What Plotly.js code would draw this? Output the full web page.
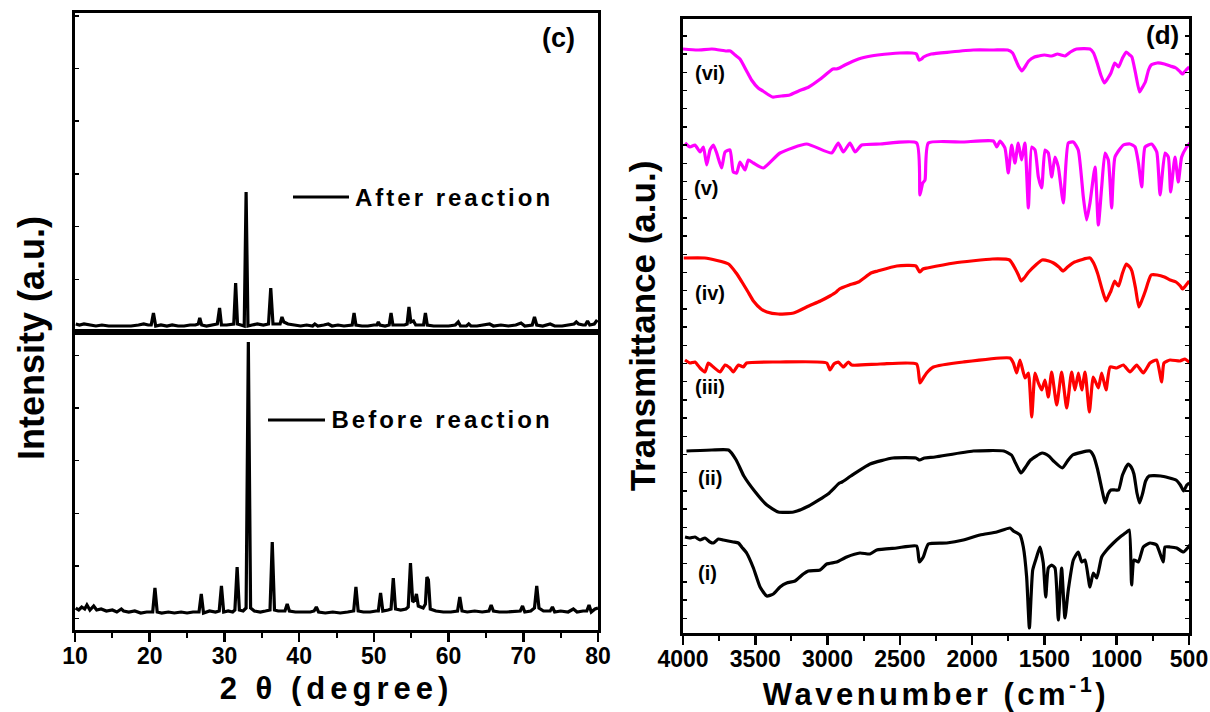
<!DOCTYPE html>
<html>
<head>
<meta charset="utf-8">
<script src="https://cdn.plot.ly/plotly-3.0.1.min.js"></script>
<style>
  html, body { margin: 0; padding: 0; background: #fff; }
  #chart { width: 1210px; height: 712px; }
  .xtitle { letter-spacing: 5px; }
  .x3title { letter-spacing: 3.5px; }
  g.annotation[data-index="2"] text, g.annotation[data-index="3"] text { letter-spacing: 3px; }
</style>
</head>
<body>
<div id="chart"></div>
<script>
// ---------------- DATA ----------------
// (c) XRD, 2-theta (degree) vs intensity (a.u.)
const xrdBefore = [[10.1,22],[10.5,20],[10.9,23],[11.3,21],[11.6,25],[12.0,20],[12.5,24],[12.9,20],[13.5,21],[14.2,19],[15.0,20],[15.6,18],[16.2,21],[16.5,19],[17.2,18],[18.0,19],[18.8,17],[19.6,18],[20.4,18],[20.7,42],[21.0,18],[21.6,17],[22.5,18],[23.3,17],[24.2,18],[25.0,17],[25.8,18],[26.6,18],[26.9,36],[27.2,17],[28.0,19],[28.8,18],[29.3,19],[29.6,44],[29.9,18],[30.5,19],[31.1,18],[31.4,20],[31.7,63],[32.0,20],[32.5,19],[32.9,22],[33.2,288],[33.5,22],[34.0,19],[34.8,18],[35.5,19],[36.1,20],[36.4,88],[36.7,20],[37.2,19],[38.1,19],[38.4,26],[38.7,19],[39.5,18],[40.5,18],[41.5,18],[42.0,19],[42.3,23],[42.6,18],[43.5,17],[44.5,18],[45.5,17],[46.5,18],[47.3,19],[47.6,43],[47.9,19],[48.6,18],[49.5,18],[50.3,19],[50.6,19],[50.9,37],[51.2,19],[51.9,20],[52.3,21],[52.6,52],[52.9,21],[53.6,20],[54.3,21],[54.6,23],[54.9,67],[55.2,28],[55.5,30],[55.7,36],[55.95,24],[56.6,22],[56.9,26],[57.1,53],[57.3,50],[57.55,21],[58.3,19],[59.3,18],[60.3,18],[61.2,19],[61.5,33],[61.8,19],[62.5,18],[63.5,19],[64.5,18],[65.4,19],[65.7,25],[66.0,19],[66.8,18],[67.8,18],[68.8,19],[69.6,19],[69.9,24],[70.2,18],[71.0,19],[71.5,22],[71.8,44],[72.1,22],[72.7,19],[73.6,19],[73.9,23],[74.2,18],[75.0,19],[76.0,18],[76.7,21],[77.2,18],[78.0,19],[78.5,19],[78.8,25],[79.1,18],[79.6,21],[80.0,22]];
const xrdAfter = [[10.1,8],[10.6,7],[11.2,8],[12.0,7],[12.8,6],[13.6,7],[14.5,6],[15.5,6],[16.5,6],[17.5,6],[18.5,7],[19.2,8],[19.8,7],[20.2,7],[20.5,19],[20.8,6],[21.5,7],[22.3,6],[23.0,7],[23.8,6],[24.6,6],[25.4,7],[26.1,7],[26.5,8],[26.7,14],[26.95,7],[27.6,6],[28.4,7],[29.05,8],[29.35,24],[29.6,7],[30.3,7],[31.0,8],[31.25,8],[31.5,49],[31.75,8],[32.2,7],[32.65,6],[32.9,140],[33.15,6],[33.7,7],[34.4,8],[35.2,7],[35.9,8],[36.2,44],[36.5,8],[37.0,8],[37.45,8],[37.7,15],[37.95,10],[38.5,8],[39.3,7],[40.2,6],[41.0,7],[41.8,6],[42.1,8],[42.5,6],[43.3,7],[43.9,8],[44.4,6],[45.2,7],[46.0,6],[46.8,7],[47.1,7],[47.35,19],[47.6,7],[48.4,6],[49.2,6],[50.0,7],[50.4,7],[50.6,10],[50.8,7],[51.5,6],[52.05,7],[52.3,19],[52.55,7],[53.3,7],[54.1,7],[54.45,8],[54.7,25],[54.95,10],[55.3,11],[55.6,7],[56.3,7],[56.65,7],[56.9,19],[57.15,7],[58.0,6],[59.0,6],[60.0,6],[60.9,7],[61.3,10],[61.6,6],[62.4,6],[62.7,8],[63.0,6],[63.8,6],[64.7,7],[65.5,8],[66.0,6],[67.0,7],[68.0,6],[69.0,7],[69.7,9],[70.2,6],[71.2,7],[71.5,15],[71.8,7],[72.6,6],[73.6,8],[74.2,6],[75.2,6],[76.2,7],[76.8,8],[77.1,10],[77.4,8],[78.0,7],[78.3,7],[78.6,11],[78.9,7],[79.5,8],[79.9,12]];
const xrdNames = ['Before reaction', 'After reaction'];

// (d) FTIR, wavenumber (cm-1) vs transmittance (a.u., stacked)
const ftir_i = [[3986,96],[3952,95],[3917,96],[3882,93],[3848,95],[3813,91],[3790,90],[3756,94],[3721,93],[3687,92],[3652,91],[3617,90],[3594,86],[3560,80],[3513,65],[3467,46],[3421,37],[3375,39],[3329,46],[3283,50],[3225,52],[3168,59],[3133,62],[3052,63],[3006,69],[2937,71],[2868,76],[2776,80],[2707,79],[2660,83],[2522,85],[2384,87],[2365,71],[2338,76],[2303,89],[2176,90],[2061,93],[1946,98],[1830,101],[1738,105],[1715,102],[1669,98],[1646,86],[1623,56],[1604,5],[1581,63],[1554,76],[1531,86],[1508,70],[1491,36],[1473,65],[1450,68],[1427,65],[1404,13],[1381,65],[1358,15],[1335,43],[1300,73],[1266,81],[1242,71],[1219,73],[1185,46],[1162,60],[1138,55],[1104,76],[1069,83],[1023,90],[977,96],[931,101],[913,103],[897,48],[880,73],[850,71],[816,86],[770,90],[724,88],[678,71],[666,86],[631,86],[585,85],[539,81],[493,88]];
const ftir_ii = [[3976,182],[3800,183],[3685,183],[3632,173],[3579,157],[3500,141],[3420,128],[3341,121],[3235,121],[3130,127],[2997,139],[2918,150],[2900,151],[2839,157],[2706,169],[2548,175],[2389,175],[2363,173],[2330,175],[2257,176],[1992,182],[1781,182],[1728,178],[1700,170],[1662,160],[1630,166],[1596,173],[1516,180],[1470,177],[1437,172],[1376,165],[1340,172],[1305,178],[1185,182],[1160,177],[1133,164],[1100,142],[1080,130],[1060,139],[1040,143],[1010,143],[987,143],[960,158],[921,169],[900,166],[881,159],[860,140],[842,130],[820,140],[800,152],[776,157],[696,157],[590,153],[560,148],[537,142],[515,148],[498,150]];
const ftir_iii = [[3986,273],[3952,270],[3917,271],[3882,265],[3848,261],[3825,270],[3790,266],[3744,261],[3709,268],[3675,265],[3652,261],[3617,268],[3583,266],[3560,270],[3329,271],[3006,270],[2983,263],[2956,269],[2926,271],[2891,266],[2856,271],[2833,268],[2637,269],[2384,269],[2361,250],[2338,255],[2315,260],[2268,266],[2061,271],[1738,275],[1715,270],[1692,260],[1669,273],[1634,255],[1611,260],[1588,216],[1565,260],[1542,250],[1519,243],[1496,253],[1473,236],[1450,261],[1415,228],[1381,261],[1346,225],[1312,261],[1289,243],[1265,260],[1242,243],[1219,261],[1189,221],[1162,256],[1127,245],[1104,260],[1074,243],[1046,266],[1000,265],[954,268],[908,261],[862,268],[816,260],[770,270],[724,273],[689,251],[673,270],[631,273],[562,272],[528,274],[493,270]];
const ftir_iv = [[3995,375],[3850,375],[3685,369],[3632,360],[3592,351],[3550,341],[3513,332],[3460,324],[3420,321],[3341,319],[3235,320],[3130,327],[3050,332],[2984,337],[2940,341],[2918,344],[2850,348],[2786,351],[2700,360],[2653,362],[2521,367],[2389,367],[2363,361],[2340,364],[2310,365],[2124,370],[1860,374],[1741,373],[1701,364],[1680,358],[1662,352],[1640,355],[1609,361],[1560,368],[1516,373],[1470,372],[1437,370],[1400,366],[1371,362],[1340,366],[1291,371],[1185,375],[1160,370],[1133,360],[1100,343],[1074,332],[1060,336],[1040,342],[1014,352],[1000,349],[987,347],[960,360],[934,369],[910,366],[895,362],[870,345],[847,326],[825,333],[802,342],[780,352],[762,358],[720,358],[670,356],[630,353],[590,351],[560,347],[545,344],[520,348],[498,352]];
const ftir_v = [[3986,490],[3952,486],[3917,488],[3882,481],[3859,486],[3836,468],[3813,483],[3790,488],[3767,480],[3733,465],[3709,481],[3675,483],[3652,461],[3629,460],[3606,471],[3571,463],[3548,473],[3513,470],[3444,465],[3329,480],[3145,489],[2972,480],[2926,490],[2891,481],[2845,490],[2810,481],[2764,488],[2637,489],[2384,490],[2361,438],[2342,450],[2326,453],[2303,490],[2061,491],[1853,492],[1830,486],[1807,492],[1773,485],[1750,460],[1727,488],[1704,470],[1681,490],[1658,473],[1635,490],[1611,425],[1588,486],[1565,483],[1542,456],[1519,445],[1496,483],[1473,480],[1450,456],[1427,476],[1404,466],[1369,430],[1335,490],[1300,491],[1266,483],[1231,436],[1208,413],[1185,430],[1150,466],[1127,408],[1104,446],[1081,480],[1058,473],[1035,425],[1012,476],[954,488],[908,489],[873,486],[850,470],[827,446],[804,486],[758,489],[723,481],[700,438],[666,480],[643,476],[627,441],[597,476],[574,451],[551,476],[516,486],[493,490]];
const ftir_vi = [[4000,584],[3900,583],[3800,584],[3700,582],[3672,582],[3640,578],[3606,574],[3560,562],[3526,553],[3480,545],[3447,542],[3381,536],[3320,537],[3262,538],[3200,542],[3130,546],[3050,554],[2963,564],[2940,564],[2918,565],[2880,568],[2786,574],[2700,577],[2653,578],[2500,580],[2415,580],[2385,579],[2368,573],[2350,574],[2336,576],[2283,579],[2150,581],[1992,583],[1850,583],[1754,583],[1720,580],[1701,574],[1680,567],[1656,562],[1635,566],[1609,572],[1569,576],[1540,577],[1500,578],[1450,577],[1410,579],[1384,578],[1357,577],[1320,581],[1278,584],[1185,584],[1160,580],[1133,569],[1110,558],[1085,550],[1060,555],[1040,560],[1014,570],[1000,568],[987,566],[960,575],[934,581],[910,578],[895,576],[870,560],[842,541],[825,545],[802,551],[780,563],[762,568],[720,570],[670,569],[630,567],[590,565],[560,561],[545,559],[520,563],[498,566]];
const ftirSeries = [ftir_i, ftir_ii, ftir_iii, ftir_iv, ftir_v, ftir_vi];
const ftirLabels = ['(i)', '(ii)', '(iii)', '(iv)', '(v)', '(vi)'];
const ftirColors = ['#000000', '#000000', '#ff0000', '#ff0000', '#ff00ff', '#ff00ff'];
const xrdTicks = [10, 20, 30, 40, 50, 60, 70, 80];
const ftirTicks = [4000, 3500, 3000, 2500, 2000, 1500, 1000, 500];

// ---------------- LAYOUT HELPERS ----------------
const W = 1210, H = 712;
const px = v => v / W;
const py = v => 1 - v / H;
const FONT = 'Liberation Sans, Arial, Helvetica, sans-serif';
const tickFont = {family: FONT, size: 23, color: '#000', weight: 'bold'};
const bold = s => '<b>' + s + '</b>';

const traces = [];
traces.push({type: 'scatter', mode: 'lines', name: xrdNames[0],
  x: xrdBefore.map(p => p[0]), y: xrdBefore.map(p => p[1]),
  xaxis: 'x', yaxis: 'y', line: {color: '#000', width: 3.2}, showlegend: false, hoverinfo: 'skip'});
traces.push({type: 'scatter', mode: 'lines', name: xrdNames[1],
  x: xrdAfter.map(p => p[0]), y: xrdAfter.map(p => p[1]),
  xaxis: 'x2', yaxis: 'y2', line: {color: '#000', width: 3.2}, showlegend: false, hoverinfo: 'skip'});
ftirSeries.forEach((s, i) => {
  traces.push({type: 'scatter', mode: 'lines', name: ftirLabels[i],
    x: s.map(p => p[0]), y: s.map(p => p[1]),
    xaxis: 'x3', yaxis: 'y3', line: {color: ftirColors[i], width: 3.2, shape: 'spline', smoothing: 0.5},
    showlegend: false, hoverinfo: 'skip'});
});

const frame = {showline: true, linewidth: 3, linecolor: '#000', mirror: true, showgrid: false, zeroline: false};
const leftX = [px(75), px(598)];
const rightX = [px(683), px(1189)];

const layout = {
  width: W, height: H,
  margin: {l: 0, r: 0, t: 0, b: 0, pad: 0},
  paper_bgcolor: '#fff', plot_bgcolor: 'rgba(0,0,0,0)',
  showlegend: false,
  font: {family: FONT, color: '#000'},
  xaxis: Object.assign({}, frame, {
    domain: leftX, anchor: 'y', range: [10, 80],
    tickvals: xrdTicks, ticktext: xrdTicks.map(v => bold(v)),
    ticks: 'outside', ticklen: 9, tickwidth: 2.5, tickcolor: '#000', tickfont: tickFont, ticklabelstandoff: -6,
    minor: {dtick: 5, tick0: 10, ticks: 'outside', ticklen: 5, tickwidth: 2, tickcolor: '#000'},
    title: {text: bold('2 θ (degree)'), font: {family: FONT, size: 31, weight: 'bold', color: '#000'}, standoff: 10}
  }),
  xaxis2: Object.assign({}, frame, {
    domain: leftX, anchor: 'y2', range: [10, 80], matches: 'x',
    showticklabels: false, ticks: ''
  }),
  yaxis: Object.assign({}, frame, {
    domain: [py(630), py(332)], anchor: 'x', range: [0, 298],
    ticks: 'inside', ticklen: 4, tickwidth: 1.5, tickcolor: '#000', tick0: 11.5, dtick: 52.6,
    showticklabels: false
  }),
  yaxis2: Object.assign({}, frame, {
    domain: [py(332), py(13)], anchor: 'x2', range: [0, 319],
    ticks: 'inside', ticklen: 4, tickwidth: 1.5, tickcolor: '#000', tick0: 0, dtick: 52.7,
    showticklabels: false
  }),
  xaxis3: Object.assign({}, frame, {
    domain: rightX, anchor: 'y3', range: [4000, 500],
    tickvals: ftirTicks, ticktext: ftirTicks.map(v => bold(v)),
    ticks: 'outside', ticklen: 9, tickwidth: 2.5, tickcolor: '#000', tickfont: tickFont, ticklabelstandoff: -6,
    minor: {dtick: 250, tick0: 500, ticks: 'outside', ticklen: 5, tickwidth: 2, tickcolor: '#000'},
    title: {text: bold('Wavenumber (cm<sup>-1</sup>)'), font: {family: FONT, size: 31, weight: 'bold', color: '#000'}, standoff: 8}
  }),
  yaxis3: Object.assign({}, frame, {
    domain: [py(633), py(19)], anchor: 'x3', range: [0, 614],
    mirror: 'allticks',
    ticks: 'inside', ticklen: 4, tickwidth: 1.5, tickcolor: '#000', tick0: 14.7, dtick: 18.2,
    showticklabels: false,
    title: {text: bold('Transmittance (a.u.)'), font: {family: FONT, size: 35, weight: 'bold', color: '#000'}, standoff: 14}
  }),
  annotations: [
    {text: bold('(c)'), xref: 'paper', yref: 'paper', x: px(558), y: py(38), xanchor: 'center', yanchor: 'middle', showarrow: false,
     font: {family: FONT, size: 27, weight: 'bold', color: '#000'}},
    {text: bold('(d)'), xref: 'paper', yref: 'paper', x: px(1162), y: py(35), xanchor: 'center', yanchor: 'middle', showarrow: false,
     font: {family: FONT, size: 26, weight: 'bold', color: '#000'}},
    {text: bold(xrdNames[1]), xref: 'paper', yref: 'paper', x: px(454), y: py(197), xanchor: 'center', yanchor: 'middle', showarrow: false,
     font: {family: FONT, size: 24, weight: 'bold', color: '#000'}},
    {text: bold(xrdNames[0]), xref: 'paper', yref: 'paper', x: px(442), y: py(419), xanchor: 'center', yanchor: 'middle', showarrow: false,
     font: {family: FONT, size: 24, weight: 'bold', color: '#000'}},
    {text: bold('Intensity (a.u.)'), xref: 'paper', yref: 'paper', x: px(31), y: py(338), xanchor: 'center', yanchor: 'middle', showarrow: false,
     textangle: -90, font: {family: FONT, size: 36, weight: 'bold', color: '#000'}}
  ],
  shapes: [
    {type: 'line', xref: 'paper', yref: 'paper', x0: px(293), x1: px(349), y0: py(197), y1: py(197), line: {color: '#000', width: 3}},
    {type: 'line', xref: 'paper', yref: 'paper', x0: px(268), x1: px(325), y0: py(420), y1: py(420), line: {color: '#000', width: 3}}
  ]
};

const labelPos = [[707, 573], [710, 478], [710, 387], [710, 293], [706, 188], [710, 73]];
ftirLabels.forEach((t, i) => {
  layout.annotations.push({text: bold(t), xref: 'paper', yref: 'paper', x: px(labelPos[i][0]), y: py(labelPos[i][1]),
    xanchor: 'center', yanchor: 'middle', showarrow: false,
    font: {family: FONT, size: 20, weight: 'bold', color: '#000'}});
});

Plotly.newPlot('chart', traces, layout, {staticPlot: true, displayModeBar: false});
</script>
</body>
</html>
